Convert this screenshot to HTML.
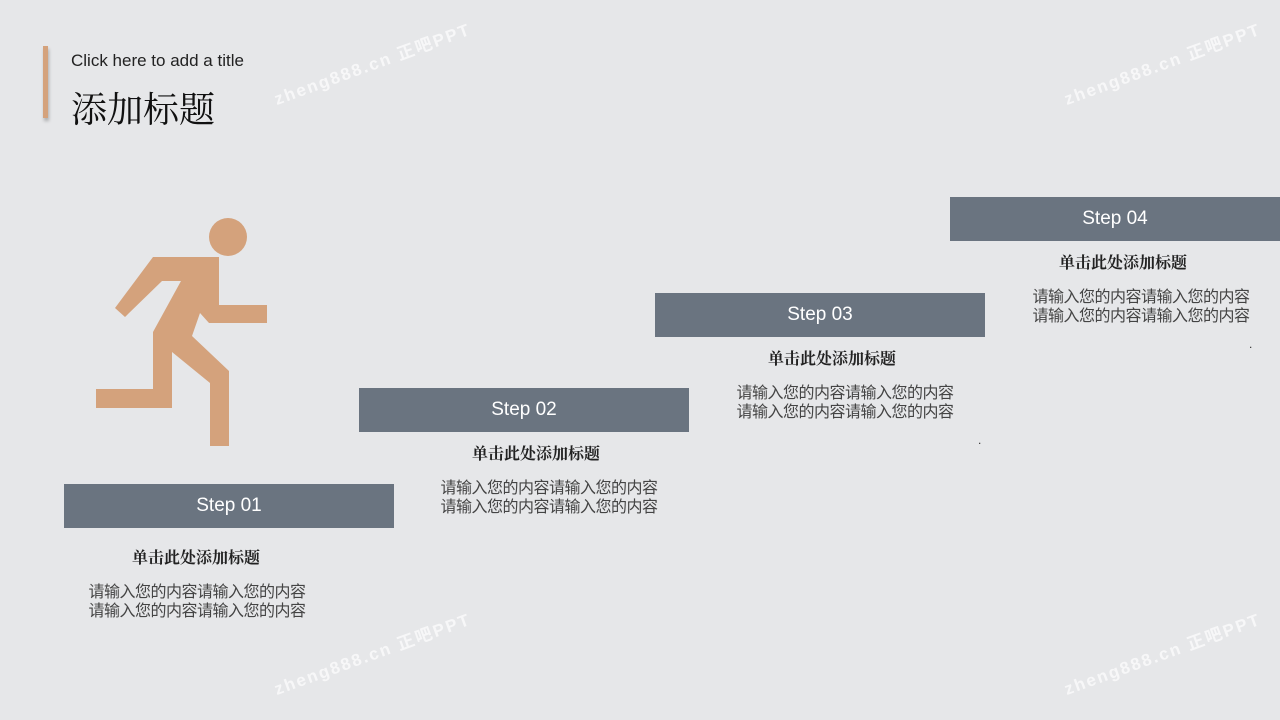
<!DOCTYPE html>
<html><head><meta charset="utf-8"><style>
body{margin:0;width:1280px;height:720px;background:#e6e7e9;position:relative;overflow:hidden;font-family:"Liberation Sans","Noto Sans CJK SC",sans-serif}
.a{position:absolute}
.bar{position:absolute;background:#6a7480;color:#fff;font-size:19px;text-align:center;height:44px;line-height:44px}
.h{position:absolute;font-family:"Liberation Serif","Noto Serif CJK SC",serif;font-weight:bold;font-size:16px;color:#222;text-align:center;width:330px}
.t{position:absolute;font-size:16px;color:#444;text-align:center;width:330px;line-height:19px;letter-spacing:-0.5px}
.wm{position:absolute;color:#fff;font-size:17px;font-weight:bold;letter-spacing:2px;transform:rotate(-20deg);opacity:.7;white-space:nowrap}
</style></head><body>
<div class="a" style="left:43px;top:46px;width:5px;height:72px;background:#d4a27c;box-shadow:1px 3px 3px rgba(0,0,0,.25)"></div>
<div class="a" style="left:71px;top:51px;font-size:17px;color:#222">Click here to add a title</div>
<div class="a" style="left:71px;top:82px;font-size:36px;color:#111;font-family:'Liberation Serif','Noto Serif CJK SC',serif">添加标题</div>
<div class="wm" style="left:268px;top:50px">zheng888.cn 正吧PPT</div>
<div class="wm" style="left:1058px;top:50px">zheng888.cn 正吧PPT</div>
<div class="wm" style="left:268px;top:640px">zheng888.cn 正吧PPT</div>
<div class="wm" style="left:1058px;top:640px">zheng888.cn 正吧PPT</div>
<svg class="a" style="left:0;top:0" width="1280" height="720">
<circle cx="228" cy="237" r="19" fill="#d4a27c"/>
<polygon fill="#d4a27c" points="153,257 219,257 219,305 267,305 267,323 209,323 200,313 192,336 229,371 229,446 210,446 210,383 172,352 172,408 96,408 96,389 153,389 153,332 181,281 162,281 125,317 115,308"/>
<text x="978" y="444" font-size="12" fill="#333">.</text>
<text x="1249" y="348" font-size="12" fill="#333">.</text>
</svg>
<div class="bar" style="left:64px;top:484px;width:330px">Step 01</div>
<div class="bar" style="left:359px;top:388px;width:330px">Step 02</div>
<div class="bar" style="left:655px;top:293px;width:330px">Step 03</div>
<div class="bar" style="left:950px;top:197px;width:330px">Step 04</div>
<div class="h" style="left:31px;top:545px">单击此处添加标题</div>
<div class="t" style="left:32px;top:583px">请输入您的内容请输入您的内容<br>请输入您的内容请输入您的内容</div>
<div class="h" style="left:371px;top:441px">单击此处添加标题</div>
<div class="t" style="left:384px;top:479px">请输入您的内容请输入您的内容<br>请输入您的内容请输入您的内容</div>
<div class="h" style="left:667px;top:346px">单击此处添加标题</div>
<div class="t" style="left:680px;top:384px">请输入您的内容请输入您的内容<br>请输入您的内容请输入您的内容</div>
<div class="h" style="left:958px;top:250px">单击此处添加标题</div>
<div class="t" style="left:976px;top:288px">请输入您的内容请输入您的内容<br>请输入您的内容请输入您的内容</div>
</body></html>
